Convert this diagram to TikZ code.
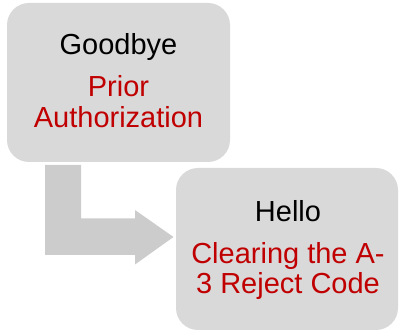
\documentclass[tikz,border=0pt]{standalone}
\usepackage{fontspec}
\setmainfont{Liberation Sans}
\definecolor{boxgray}{HTML}{D9D9D9}
\definecolor{arrowgray}{HTML}{CCCCCC}
\definecolor{darkred}{HTML}{C00000}
\begin{document}
\begin{tikzpicture}[x=1pt,y=-1pt,
  box/.style={draw=none, fill=boxgray, rounded corners=22pt, inner sep=0pt},
  lbl/.style={anchor=base, inner sep=0pt, font=\fontsize{29}{34}\selectfont},
  redlbl/.style={lbl, text=darkred},
  bentarrow/.style={fill=arrowgray, draw=none}]
\useasboundingbox (0,0) rectangle (400,331);
% boxes
\node[box, minimum width=223pt, minimum height=159pt] (b1) at (118.5,82.5) {};
\node[box, minimum width=222pt, minimum height=162pt] (b2) at (287,249) {};
% bent arrow
\path[bentarrow] (45,165) -- (81,165) -- (81,218.5) -- (135,218.5) -- (135,210)
  -- (173.5,237) -- (135,264.5) -- (135,255) -- (45,255) -- cycle;
% texts box 1
\node[lbl] (t1) at (118.5,55) {Goodbye};
\node[redlbl] (t2) at (118.5,97) {Prior};
\node[redlbl] (t3) at (118.5,128) {Authorization};
% texts box 2
\node[lbl] (t4) at (288,222) {Hello};
\node[redlbl] (t5) at (288,264) {Clearing the A-};
\node[redlbl] (t6) at (288,293.5) {3 Reject Code};
\end{tikzpicture}
\end{document}
